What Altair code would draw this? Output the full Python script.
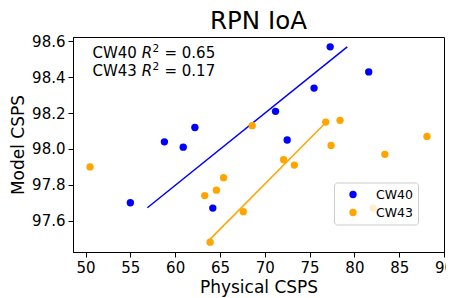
import altair as alt
import pandas as pd

FONT = "DejaVu Sans"

# ---- data ----
cw40_x = [55.0, 58.8, 60.9, 62.2, 64.2, 71.2, 72.5, 75.5, 77.3, 81.6]
cw40_y = [97.70, 98.04, 98.01, 98.12, 97.67, 98.21, 98.05, 98.34, 98.57, 98.43]
cw43_x = [50.5, 63.3, 63.9, 64.6, 65.4, 67.6, 68.6, 72.1, 73.3, 76.8, 77.4, 78.4, 82.1, 83.4, 88.1]
cw43_y = [97.90, 97.74, 97.48, 97.77, 97.84, 97.65, 98.13, 97.94, 97.91, 98.15, 98.02, 98.16, 97.67, 97.97, 98.07]

fit40_x = [56.9, 79.2]
fit40_y = [97.672, 98.570]
fit43_x = [63.9, 76.85]
fit43_y = [97.497, 98.149]

series = ["CW40", "CW43"]
colors = ["#0000ff", "#ffa500"]
r2_values = ["0.65", "0.17"]

x_ticks = [50, 55, 60, 65, 70, 75, 80, 85, 90]
y_ticks = [97.6, 97.8, 98.0, 98.2, 98.4, 98.6]
x_domain = [48.6, 90.0]
y_domain = [97.425, 98.625]

pts = pd.DataFrame(
    {"x": cw40_x + cw43_x,
     "y": cw40_y + cw43_y,
     "series": ["CW40"] * len(cw40_x) + ["CW43"] * len(cw43_x)}
)
fits = pd.DataFrame(
    {"x": fit40_x + fit43_x,
     "y": fit40_y + fit43_y,
     "series": ["CW40"] * 2 + ["CW43"] * 2}
)

W, H = 371, 215

xs = alt.Scale(domain=x_domain, nice=False, zero=False)
ys = alt.Scale(domain=y_domain, nice=False, zero=False)
cs = alt.Scale(domain=series, range=colors)

x_axis = alt.Axis(values=x_ticks, title="Physical CSPS", grid=False, labelFontSize=15,
                  titleFontSize=17, titleFontWeight="normal", labelFont=FONT, titleFont=FONT,
                  tickSize=5, tickColor="black", domainColor="black", labelColor="black",
                  titleColor="black", labelPadding=3, titlePadding=4, format="d",
                  labelFlush=False)
y_axis = alt.Axis(values=y_ticks, title="Model CSPS", grid=False, labelFontSize=15,
                  titleFontSize=17, titleFontWeight="normal", labelFont=FONT, titleFont=FONT,
                  tickSize=5, tickColor="black", domainColor="black", labelColor="black",
                  titleColor="black", labelPadding=3, titlePadding=4, format=".1f")

points = alt.Chart(pts).mark_circle(size=54, opacity=1).encode(
    x=alt.X("x:Q", scale=xs, axis=x_axis),
    y=alt.Y("y:Q", scale=ys, axis=y_axis),
    color=alt.Color("series:N", scale=cs, legend=None),
)

layers = []
for name, col in zip(series, colors):
    layers.append(alt.Chart(fits).transform_filter(alt.datum.series == name)
                  .mark_line(strokeWidth=1.5, color=col)
                  .encode(x=alt.X("x:Q", scale=xs), y=alt.Y("y:Q", scale=ys)))
layers.append(points)

one = pd.DataFrame({"t": [""]})

# title
layers.append(alt.Chart(pd.DataFrame({"t": ["RPN IoA"]})).mark_text(
    font=FONT, fontSize=24.5, align="center", baseline="alphabetic", color="black"
).encode(text="t:N", x=alt.value(W / 2), y=alt.value(-8)))

# R^2 annotation
fs = 15
for i, (name, r2) in enumerate(zip(series, r2_values)):
    base_y = 21 + i * 17.5
    x0 = 19.5
    r_x = x0 + 3.278 * fs
    sup_x = r_x + 0.695 * fs + 0.3
    eq_x = sup_x + 0.636 * fs * 0.7 + 0.318 * fs + 0.6
    parts = [
        (name, x0, base_y, fs, "normal"),
        ("R", r_x, base_y, fs, "italic"),
        ("2", sup_x, base_y - 6, fs * 0.7, "normal"),
        ("= " + r2, eq_x, base_y, fs, "normal"),
    ]
    for txt, px, py, size, style in parts:
        layers.append(alt.Chart(pd.DataFrame({"t": [txt]})).mark_text(
            font=FONT, fontSize=size, fontStyle=style, align="left",
            baseline="alphabetic", color="black"
        ).encode(text="t:N", x=alt.value(px), y=alt.value(py)))

# legend box (drawn like matplotlib's framed legend)
layers.append(alt.Chart(one).mark_rect(
    fill="white", fillOpacity=0.8, stroke="#cccccc", strokeWidth=1, cornerRadius=3
).encode(x=alt.value(261.5), x2=alt.value(345.5), y=alt.value(146), y2=alt.value(188)))
for i, (name, col) in enumerate(zip(series, colors)):
    ly = 157.5 + 18 * i
    layers.append(alt.Chart(pd.DataFrame({"t": [name]})).mark_circle(
        size=54, color=col, opacity=1
    ).encode(x=alt.value(280), y=alt.value(ly)))
    layers.append(alt.Chart(pd.DataFrame({"t": [name]})).mark_text(
        font=FONT, fontSize=12.5, align="left", baseline="middle", color="black"
    ).encode(text="t:N", x=alt.value(303), y=alt.value(ly)))

chart = alt.layer(*layers).properties(
    width=W, height=H,
    autosize=alt.AutoSizeParams(type="none"),
    padding={"left": 65, "top": 29, "right": 2, "bottom": 46},
).configure_view(stroke="black", strokeWidth=1).configure_axis(domainWidth=1, tickWidth=1)

chart.save("out.html", embed_options={"renderer": "svg", "actions": False})
